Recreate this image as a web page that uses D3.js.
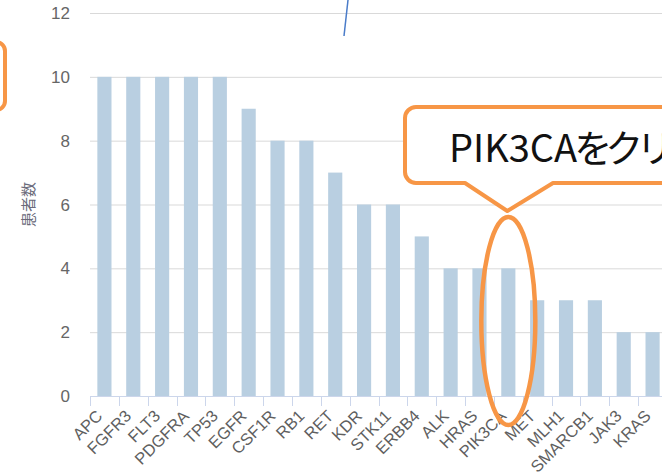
<!DOCTYPE html>
<html>
<head>
<meta charset="utf-8">
<script src="https://cdn.jsdelivr.net/npm/d3@7/dist/d3.min.js"></script>
<style>
  body { margin: 0; background: #fff; }
  svg { display: block; }
</style>
</head>
<body>
<svg id="chart" width="662" height="472"></svg>
<script>
// data
var genes = ["APC", "FGFR3", "FLT3", "PDGFRA", "TP53", "EGFR", "CSF1R", "RB1", "RET", "KDR",
             "STK11", "ERBB4", "ALK", "HRAS", "PIK3CA", "MET", "MLH1", "SMARCB1", "JAK3", "KRAS"];
var patients = [10, 10, 10, 10, 10, 9, 8, 8, 7, 6, 6, 5, 4, 4, 4, 3, 3, 3, 2, 2];
var yTicks = [0, 2, 4, 6, 8, 10, 12];
var yTitle = "患者数";
var calloutLatin = "PIK3CA";
var calloutKana = "をクリックすると";

var svg = d3.select("#chart");
var orange = "#f79646";

var x = d3.scaleBand()
    .domain(genes)
    .range([90, 90 + genes.length * 28.85])
    .padding(0);
var y = d3.scaleLinear()
    .domain([0, 12])
    .range([396, 13]);

// grid lines
svg.append("g")
  .selectAll("line")
  .data(yTicks.filter(function(d) { return d > 0; }))
  .enter().append("line")
    .attr("x1", 90)
    .attr("x2", 662)
    .attr("y1", function(d) { return y(d) + 0.5; })
    .attr("y2", function(d) { return y(d) + 0.5; })
    .attr("stroke", "#d9d9d9")
    .attr("stroke-width", 1);

// y labels
svg.append("g")
  .selectAll("text")
  .data(yTicks)
  .enter().append("text")
    .attr("x", 70)
    .attr("y", function(d) { return y(d); })
    .attr("dy", "0.36em")
    .attr("text-anchor", "end")
    .attr("font-family", "Liberation Sans, Arial, sans-serif")
    .attr("font-size", 17)
    .attr("fill", "#666")
    .text(function(d) { return d; });

// y title
svg.append("text")
    .attr("transform", "translate(29," + ((y(0) + y(12)) / 2) + ") rotate(-90)")
    .attr("dy", "0.35em")
    .attr("text-anchor", "middle")
    .attr("font-family", "Noto Sans CJK JP, sans-serif")
    .attr("font-size", 15)
    .attr("fill", "#6a6a7a")
    .text(yTitle);

// bars
var barW = x.bandwidth() * 0.49;
svg.append("g")
  .selectAll("rect")
  .data(genes)
  .enter().append("rect")
    .attr("x", function(d) { return x(d) + (x.bandwidth() - barW) / 2; })
    .attr("y", function(d, i) { return y(patients[i]); })
    .attr("width", barW)
    .attr("height", function(d, i) { return y(0) - y(patients[i]); })
    .attr("fill", "#b9cfe1");

// x axis
var xAxis = svg.append("g");
xAxis.append("line")
    .attr("x1", 90).attr("x2", 662)
    .attr("y1", y(0) + 0.5).attr("y2", y(0) + 0.5)
    .attr("stroke", "#ccd6eb");
xAxis.selectAll("line.tick")
  .data(genes)
  .enter().append("line")
    .attr("class", "tick")
    .attr("x1", function(d) { return Math.round(x(d)) + 0.5; })
    .attr("x2", function(d) { return Math.round(x(d)) + 0.5; })
    .attr("y1", y(0))
    .attr("y2", y(0) + 10)
    .attr("stroke", "#ccd6eb");
xAxis.selectAll("text")
  .data(genes)
  .enter().append("text")
    .attr("transform", function(d) {
      return "translate(" + (x(d) + x.bandwidth() / 2 - 5) + "," + (y(0) + 17) + ") rotate(-45)";
    })
    .attr("dy", "0.35em")
    .attr("text-anchor", "end")
    .attr("font-family", "Liberation Sans, Arial, sans-serif")
    .attr("font-size", 16.5)
    .attr("fill", "#5f5f5f")
    .text(function(d) { return d; });

// annotations on top of the screenshot
svg.append("line")
    .attr("x1", 348).attr("y1", 0)
    .attr("x2", 344).attr("y2", 36)
    .attr("stroke", "#4a7cc9")
    .attr("stroke-width", 1.5);

svg.append("rect")
    .attr("x", -50).attr("y", 42)
    .attr("width", 55).attr("height", 68)
    .attr("rx", 9)
    .attr("fill", "none")
    .attr("stroke", orange)
    .attr("stroke-width", 4);

var cx = x("PIK3CA") + x.bandwidth() / 2;
svg.append("ellipse")
    .attr("cx", cx)
    .attr("cy", 321)
    .attr("rx", 27)
    .attr("ry", 104)
    .attr("fill", "none")
    .attr("stroke", orange)
    .attr("stroke-width", 4.5);

// callout
var cl = 405, ct = 107, cb = 183, r = 11;
var tip = [cx - 1, 211];
var callout = d3.path();
callout.moveTo(cl + r, ct);
callout.lineTo(720, ct);
callout.lineTo(720, cb);
callout.lineTo(553, cb);
callout.lineTo(tip[0], tip[1]);
callout.lineTo(465, cb);
callout.lineTo(cl + r, cb);
callout.arcTo(cl, cb, cl, cb - r, r);
callout.lineTo(cl, ct + r);
callout.arcTo(cl, ct, cl + r, ct, r);
callout.closePath();
svg.append("path")
    .attr("d", callout.toString())
    .attr("fill", "#fff")
    .attr("stroke", orange)
    .attr("stroke-width", 4)
    .attr("stroke-linejoin", "round");

var ct1 = svg.append("text")
    .attr("x", 449)
    .attr("y", 162)
    .attr("font-family", "Noto Sans CJK JP, sans-serif")
    .attr("font-size", 38)
    .attr("fill", "#111");
ct1.append("tspan").text(calloutLatin);
ct1.append("tspan")
    .attr("dx", -3)
    .attr("letter-spacing", -7)
    .text(calloutKana);
</script>
</body>
</html>
